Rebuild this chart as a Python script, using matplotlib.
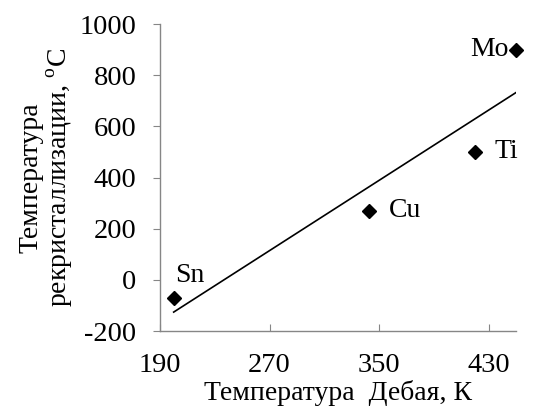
import numpy as np
import matplotlib
matplotlib.use('Agg')
import matplotlib.pyplot as plt

# Debye temperature (K) and recrystallization temperature (deg C)
metals = ['Sn', 'Cu', 'Ti', 'Mo']
debye_t = [200, 343, 420, 450]
recryst_t = [-70, 270, 500, 900]

x_ticks = [190, 270, 350, 430]
y_ticks = [-200, 0, 200, 400, 600, 800, 1000]

plt.rcParams['font.family'] = 'Liberation Serif'
plt.rcParams['mathtext.fontset'] = 'custom'
plt.rcParams['mathtext.rm'] = 'Liberation Serif'
plt.rcParams['axes.unicode_minus'] = False

fig = plt.figure(figsize=(5.34, 4.12), dpi=100)
ax = fig.add_axes([0.2996, 0.1966, 0.6667, 0.7451])

ax.plot(debye_t, recryst_t, linestyle='none', marker='D', markersize=7.6,
        color='black', clip_on=False, zorder=3)

# linear trend line over the data range
slope, intercept = np.polyfit(debye_t, recryst_t, 1)
xs = np.array([min(debye_t), max(debye_t)])
ax.plot(xs, slope * xs + intercept, color='black', linewidth=1.2)

# point labels
offsets = {'Sn': (1, 11, 'left', 'baseline'),
           'Cu': (14, 0, 'left', 'center'),
           'Ti': (14, 0, 'left', 'center'),
           'Mo': (-5, 0, 'right', 'center')}
for name, x, y in zip(metals, debye_t, recryst_t):
    dx, dy, ha, va = offsets[name]
    ax.annotate(name, (x, y), xytext=(dx, dy), textcoords='offset points',
                ha=ha, va=va, fontsize=20)

ax.set_xlim(190, 450)
ax.set_ylim(-200, 1000)
ax.set_xticks(x_ticks)
ax.set_yticks(y_ticks)

for side in ['top', 'right']:
    ax.spines[side].set_visible(False)
for side in ['left', 'bottom']:
    ax.spines[side].set_color('#868686')
    ax.spines[side].set_linewidth(1.0)

ax.tick_params(axis='x', direction='in', length=5, color='#868686',
               labelsize=20.5, pad=16)
ax.tick_params(axis='y', direction='out', length=5, color='#868686',
               labelsize=20.5, pad=12)

ax.set_xlabel('Температура  Дебая, К', fontsize=20, labelpad=1)
ax.set_ylabel('Температура\nрекристаллизации, $^{\\mathrm{o}}$C',
              fontsize=20, labelpad=3, linespacing=1.05)

fig.savefig('out.png', dpi=100)
